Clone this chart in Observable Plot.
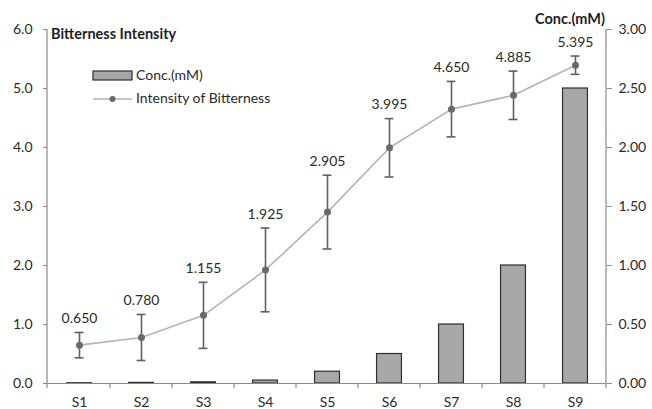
<!DOCTYPE html>
<html>
<head>
<meta charset="utf-8">
<script src="https://cdn.jsdelivr.net/npm/d3@7"></script>
<script src="https://cdn.jsdelivr.net/npm/@observablehq/plot@0.6"></script>
<style>
  html, body { margin: 0; padding: 0; background: #fff; }
  #chart { width: 652px; height: 409px; }
</style>
</head>
<body>
<div id="chart"></div>
<script>
// ---- data ----
const samples = ["S1", "S2", "S3", "S4", "S5", "S6", "S7", "S8", "S9"];
const intensity = [0.650, 0.780, 1.155, 1.925, 2.905, 3.995, 4.650, 4.885, 5.395];
const intensityErr = [0.215, 0.39, 0.56, 0.71, 0.625, 0.495, 0.47, 0.41, 0.155];
const concentration = [0.002, 0.005, 0.01, 0.025, 0.1, 0.25, 0.5, 1.0, 2.5];
const leftTicks = [0, 1, 2, 3, 4, 5, 6];
const rightTicks = [0, 0.5, 1.0, 1.5, 2.0, 2.5, 3.0];
const leftTitle = "Bitterness Intensity";
const rightTitle = "Conc.(mM)";
const legendBar = "Conc.(mM)";
const legendLine = "Intensity of Bitterness";

// right axis 3.00 aligns with left axis 6.0
const ratio = 6 / 3;

const table = samples.map((s, i) => ({
  s,
  v: intensity[i],
  lo: intensity[i] - intensityErr[i],
  hi: intensity[i] + intensityErr[i],
  c: concentration[i] * ratio
}));

const W = 652, H = 409;
const mL = 47, mR = 46, mT = 29, mB = 26;
const bandW = (W - mL - mR) / samples.length;
const barW = 25, capW = 9;

const chart = Plot.plot({
  width: W,
  height: H,
  marginLeft: mL,
  marginRight: mR,
  marginTop: mT,
  marginBottom: mB,
  style: { fontFamily: "Lato, 'Open Sans', sans-serif", fontSize: "14px", color: "#333", background: "#fff" },
  x: { type: "band", domain: samples, padding: 0 },
  y: { domain: [0, 6] },
  marks: [
    Plot.barY(table, {
      x: "s", y: "c", fill: "#a8a8a8", stroke: "#2e2e2e", strokeWidth: 1.2,
      insetLeft: (bandW - barW) / 2, insetRight: (bandW - barW) / 2
    }),
    Plot.line(table, { x: "s", y: "v", stroke: "#b4b4b4", strokeWidth: 1.6 }),
    Plot.ruleX(table, { x: "s", y1: "lo", y2: "hi", stroke: "#606060", strokeWidth: 1.6 }),
    Plot.tickY(table, { x: "s", y: "hi", stroke: "#606060", strokeWidth: 1.6,
      insetLeft: (bandW - capW) / 2, insetRight: (bandW - capW) / 2 }),
    Plot.tickY(table, { x: "s", y: "lo", stroke: "#606060", strokeWidth: 1.6,
      insetLeft: (bandW - capW) / 2, insetRight: (bandW - capW) / 2 }),
    Plot.dot(table, { x: "s", y: "v", r: 3.5, fill: "#6a6a6a", stroke: "none" }),
    Plot.text(table, { x: "s", y: "hi", text: d => d.v.toFixed(3), dy: -14,
      fill: "#2a2a2a", fontSize: 14 }),
    Plot.axisY(leftTicks, { anchor: "left", tickFormat: d => d.toFixed(1),
      tickSize: 4, tickPadding: 11, stroke: "#8a8a8a", fill: "#2a2a2a", label: null }),
    Plot.axisY(rightTicks.map(v => v * ratio), { anchor: "right", tickFormat: d => (d / ratio).toFixed(2),
      tickSize: 5, tickPadding: 7, stroke: "#8a8a8a", fill: "#2a2a2a", label: null }),
    Plot.axisX({ tickSize: 0, tickPadding: 14, fill: "#2a2a2a", label: null }),
    Plot.ruleY([0], { stroke: "#8a8a8a", strokeWidth: 1.2 })
  ]
});

document.getElementById("chart").appendChild(chart);

// ---- extra decorations: axis lines, category boundary ticks, titles, legend ----
const svg = d3.select(chart);
const xs = chart.scale("x");
const ys = chart.scale("y");
const x0 = xs.range[0], x1 = xs.range[1];
const y0 = ys.apply(0), y6 = ys.apply(6);
const g = svg.append("g").attr("text-anchor", "start");
g.append("line").attr("x1", x0).attr("x2", x0).attr("y1", y6).attr("y2", y0 + 5)
  .attr("stroke", "#8a8a8a").attr("stroke-width", 1.2);
g.append("line").attr("x1", x1).attr("x2", x1).attr("y1", y6).attr("y2", y0 + 5)
  .attr("stroke", "#8a8a8a").attr("stroke-width", 1.2);
samples.forEach((s, i) => {
  if (i === 0) return;
  const bx = xs.apply(s);
  g.append("line").attr("x1", bx).attr("x2", bx).attr("y1", y0).attr("y2", y0 + 5)
    .attr("stroke", "#8a8a8a").attr("stroke-width", 1.2);
});

g.append("text").attr("x", 51).attr("y", 35).attr("dominant-baseline", "middle")
  .attr("text-anchor", "start")
  .attr("font-weight", "bold").attr("font-size", 14.5).attr("fill", "#1e1e1e").text(leftTitle);
g.append("text").attr("x", 605).attr("y", 20).attr("dominant-baseline", "middle")
  .attr("text-anchor", "end")
  .attr("font-weight", "bold").attr("font-size", 14.5).attr("fill", "#1e1e1e").text(rightTitle);

// legend
g.append("rect").attr("x", 93).attr("y", 71).attr("width", 39).attr("height", 9)
  .attr("fill", "#a8a8a8").attr("stroke", "#2e2e2e").attr("stroke-width", 1.2);
g.append("text").attr("x", 136).attr("y", 76).attr("dominant-baseline", "middle")
  .attr("text-anchor", "start")
  .attr("font-size", 14).attr("fill", "#2a2a2a").text(legendBar);
g.append("line").attr("x1", 93).attr("x2", 132).attr("y1", 99).attr("y2", 99)
  .attr("stroke", "#b4b4b4").attr("stroke-width", 1.6);
g.append("circle").attr("cx", 112.5).attr("cy", 99).attr("r", 3).attr("fill", "#6a6a6a");
g.append("text").attr("x", 136).attr("y", 99).attr("dominant-baseline", "middle")
  .attr("text-anchor", "start")
  .attr("font-size", 14).attr("fill", "#2a2a2a").text(legendLine);
</script>
</body>
</html>
